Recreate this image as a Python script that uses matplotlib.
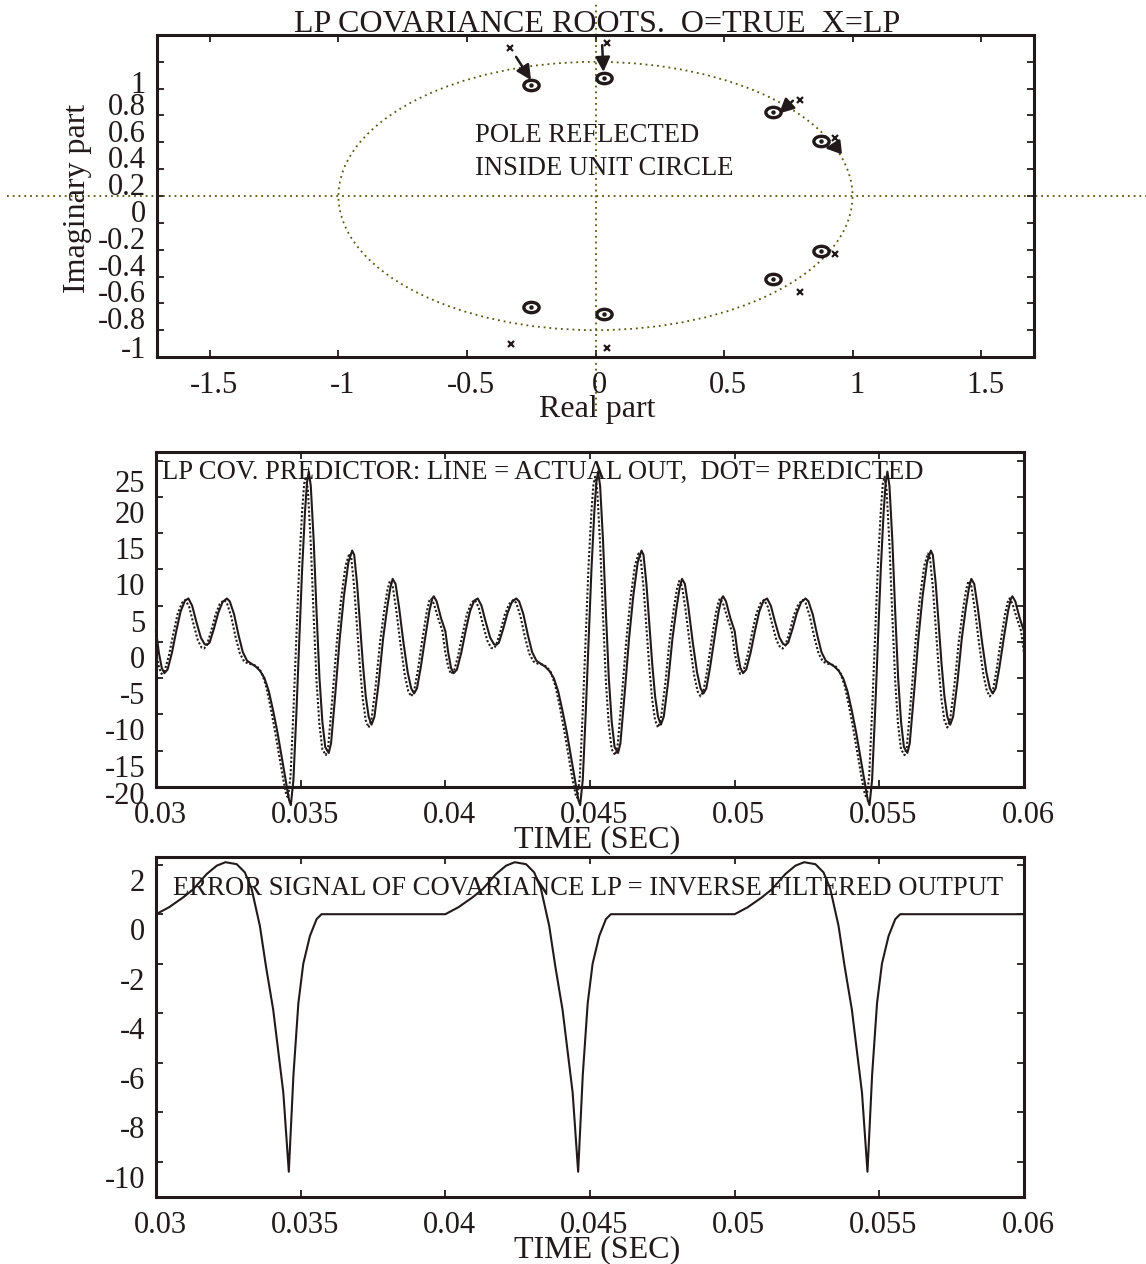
import numpy as np
import matplotlib.pyplot as plt
from matplotlib.patches import Circle
from matplotlib.path import Path
from matplotlib.transforms import ScaledTranslation, Affine2D

plt.rcParams['font.family'] = ['Liberation Serif', 'DejaVu Serif']
ink = '#221a1a'
olive = '#56560f'

# --- pole/zero data: true roots (o) and LP covariance roots (x)
true_re = [-0.25, 0.035, 0.69, 0.878, 0.878, 0.69, 0.035, -0.25]
true_im = [0.826, 0.876, 0.623, 0.41, -0.407, -0.62, -0.879, -0.826]
lp_re = [-0.331, 0.044, 0.794, 0.93, 0.93, 0.794, 0.044, -0.327]
lp_im = [1.104, 1.137, 0.715, 0.43, -0.432, -0.712, -1.13, -1.10]
arrow_tail = [(-0.309, 1.037), (0.026, 1.124), (0.768, 0.710), (0.949, 0.368)]
arrow_head = [(-0.251, 0.864), (0.031, 0.925), (0.714, 0.615), (0.893, 0.356)]

# --- one pitch period (10 ms) of each signal, time in ms from period start
period = 0.01
t0 = 0.03
tau_actual = [0.00, 0.10, 0.20, 0.29, 0.40, 0.55, 0.70, 0.85, 1.00, 1.12, 1.25, 1.40,
              1.55, 1.68, 1.76, 1.85, 2.00, 2.15, 2.30, 2.45, 2.55, 2.70, 2.85, 3.00,
              3.15, 3.30, 3.45, 3.60, 3.75, 3.90, 4.05, 4.20, 4.35, 4.50, 4.60, 4.66,
              4.75, 4.85, 4.95, 5.05, 5.15, 5.22, 5.28, 5.35, 5.45, 5.55, 5.65, 5.75,
              5.85, 5.97, 6.05, 6.20, 6.35, 6.50, 6.65, 6.78, 6.85, 6.95, 7.05, 7.15,
              7.25, 7.35, 7.45, 7.55, 7.70, 7.85, 8.00, 8.10, 8.18, 8.28, 8.40, 8.55,
              8.70, 8.82, 8.92, 9.02, 9.15, 9.30, 9.45, 9.55, 9.60, 9.70, 9.85, 10.00]
actual = [1.5, -1.5, -3.6, -4.3, -3.8, -1.5, 1.5, 4.2, 5.7, 6.0, 5.0, 2.7,
          0.6, -0.3, -0.4, -0.1, 1.8, 4.0, 5.5, 6.0, 5.6, 3.8, 1.0, -1.4,
          -2.6, -3.0, -3.4, -4.0, -5.0, -6.8, -9.5, -12.5, -16.0, -19.5, -21.8, -22.5,
          -19.0, -10.0, 0.0, 10.0, 18.0, 22.0, 23.5, 21.5, 14.0, 4.0, -5.0, -11.0,
          -14.5, -15.3, -14.0, -7.0, 0.5, 6.5, 11.0, 12.6, 12.0, 8.0, 2.5, -3.0,
          -7.5, -10.3, -11.4, -10.3, -5.5, 0.5, 5.0, 7.5, 8.7, 8.0, 4.8, 0.0,
          -4.2, -6.4, -7.1, -6.4, -3.5, 0.5, 4.3, 6.0, 6.3, 5.6, 3.3, 1.5]

tau_pred = [0.00, 0.10, 0.19, 0.30, 0.45, 0.60, 0.75, 0.90, 1.02, 1.15, 1.30, 1.45,
            1.58, 1.66, 1.75, 1.90, 2.05, 2.20, 2.35, 2.45, 2.60, 2.75, 2.90, 3.05,
            3.20, 3.35, 3.50, 3.65, 3.80, 3.95, 4.10, 4.25, 4.40, 4.50, 4.56, 4.65,
            4.75, 4.85, 4.95, 5.05, 5.12, 5.18, 5.25, 5.35, 5.45, 5.55, 5.65, 5.75,
            5.87, 5.95, 6.10, 6.25, 6.40, 6.55, 6.68, 6.75, 6.85, 6.95, 7.05, 7.15,
            7.25, 7.35, 7.45, 7.60, 7.75, 7.90, 8.00, 8.08, 8.18, 8.30, 8.45, 8.60,
            8.72, 8.82, 8.92, 9.05, 9.20, 9.35, 9.45, 9.50, 9.60, 9.75, 9.90, 10.00]
predicted = [-1.5, -3.4, -4.4, -4.0, -1.8, 1.2, 3.9, 5.4, 5.8, 4.8, 2.4, 0.2,
             -0.8, -0.9, -0.5, 1.4, 3.7, 5.2, 5.8, 5.4, 3.5, 0.7, -1.6, -2.7,
             -3.0, -3.1, -3.4, -4.2, -6.0, -8.8, -12.0, -15.5, -19.0, -21.0, -21.5, -18.5,
             -9.5, 0.5, 10.5, 18.0, 21.8, 22.8, 21.0, 13.5, 3.5, -5.5, -11.5, -14.8,
             -15.6, -14.5, -7.5, 0.0, 6.0, 10.5, 12.2, 11.6, 7.5, 2.0, -3.5, -8.0,
             -10.8, -11.8, -10.6, -5.8, 0.2, 4.7, 7.2, 8.4, 7.7, 4.5, -0.3, -4.6,
             -6.8, -7.5, -6.8, -3.9, 0.2, 4.0, 5.7, 6.0, 5.3, 3.3, 1.5, -1.5]

tau_error = [0.00, 0.45, 0.94, 1.29, 1.75, 2.10, 2.40, 2.79, 3.07, 3.30, 3.50, 3.59,
             3.80, 4.05, 4.40, 4.59, 4.75, 4.92, 5.09, 5.32, 5.55, 5.72, 9.87, 10.00]
error = [0.00, 0.28, 0.68, 1.01, 1.62, 1.96, 2.10, 2.02, 1.69, 1.05, 0.0, -0.47,
         -2.1, -3.85, -7.2, -10.4, -6.5, -3.6, -2.0, -0.88, -0.2, 0.0, 0.0, 0.0]


def three_periods(tau, vals):
    t = np.concatenate([t0 + k * period + np.array(tau) / 1000 for k in range(3)])
    return t, np.tile(vals, 3)


W, H = 1146, 1264
fig = plt.figure(figsize=(W / 100, H / 100), dpi=100)
FS_TICK, FS_LABEL, FS_NOTE = 22, 23, 19.2


def box(left, top, right, bottom):
    return [left / W, 1 - bottom / H, (right - left) / W, (bottom - top) / H]


def px(x, y):
    return x / W, 1 - y / H


def style(ax, xt, xl, yt, yl, ydy):
    ax.set_xticks(xt)
    ax.set_yticks(yt)
    ax.set_xticklabels([])
    ax.set_yticklabels([])
    ax.tick_params(direction='in', length=5, width=1.3, top=True, right=True,
                   color=ink)
    for s in ax.spines.values():
        s.set_linewidth(2.2)
        s.set_color(ink)
    xtr = ax.get_xaxis_transform() + ScaledTranslation(4 / 100, -36 / 100, fig.dpi_scale_trans)
    for v, s in zip(xt, xl):
        ax.text(v, 0, s, transform=xtr, ha='center', va='baseline', fontsize=FS_TICK,
                color=ink, clip_on=False)
    for v, s, dy in zip(yt, yl, ydy):
        ytr = ax.get_yaxis_transform() + ScaledTranslation(-11 / 100, -(dy + 10) / 100,
                                                           fig.dpi_scale_trans)
        ax.text(0, v, s, transform=ytr, ha='right', va='baseline', fontsize=FS_TICK,
                color=ink, clip_on=False)


# flattened ring used for the true roots
ring = Path.unit_circle().transformed(Affine2D().scale(1.0, 0.68))

# ---------------- roots plot
ax1 = fig.add_axes(box(157, 35, 1034, 357))
ax1.set_xlim(-1.706, 1.706)
ax1.set_ylim(-1.2, 1.2)
dots = (0, (1, 2.2))
ax1.add_patch(Circle((0, 0), 1, fill=False, ec=olive, lw=1.3, ls=dots))
ax1.plot([-2.29, 2.3], [0, 0], color=olive, lw=1.3, ls=dots, clip_on=False)
ax1.plot([0, 0], [-1.6, 1.45], color=olive, lw=1.3, ls=dots, clip_on=False)
ax1.plot(true_re, true_im, ls='none', marker=ring, ms=11, mfc='white', mec=ink, mew=2.4)
ax1.plot(true_re, true_im, 'o', ms=2.2, color=ink, ls='none')
ax1.plot(lp_re, lp_im, 'x', ms=4.5, mew=1.6, color=ink, ls='none')
for tail, head in zip(arrow_tail, arrow_head):
    ax1.annotate('', xy=head, xytext=tail,
                 arrowprops=dict(arrowstyle='-|>', lw=1.8, color=ink,
                                 mutation_scale=22, shrinkA=0, shrinkB=0))
yt1 = [-1, -0.8, -0.6, -0.4, -0.2, 0, 0.2, 0.4, 0.6, 0.8, 1]
yl1 = ['-1', '-0.8', '-0.6', '-0.4', '-0.2', '0', '0.2', '0.4', '0.6', '0.8', '1']
xt1 = [-1.5, -1, -0.5, 0, 0.5, 1, 1.5]
xl1 = ['-1.5', '-1', '-0.5', '0', '0.5', '1', '1.5']
style(ax1, xt1, xl1, yt1, yl1, ydy=[18] + [16] * 9 + [21])
fig.text(*px(597, 32), 'LP COVARIANCE ROOTS.  O=TRUE  X=LP', ha='center',
         va='baseline', fontsize=FS_LABEL, color=ink)
fig.text(*px(475, 142), 'POLE REFLECTED', ha='left', va='baseline', fontsize=FS_NOTE, color=ink)
fig.text(*px(475, 175), 'INSIDE UNIT CIRCLE', ha='left', va='baseline', fontsize=FS_NOTE,
         color=ink)
fig.text(*px(77, 198), 'Imaginary part', rotation=90, ha='center', va='center',
         fontsize=FS_LABEL, color=ink)
fig.text(*px(597, 417), 'Real part', ha='center', va='baseline', fontsize=FS_LABEL, color=ink)

# ---------------- predictor output
ax2 = fig.add_axes(box(156, 452, 1024, 787))
ax2.set_xlim(0.03, 0.06)
ax2.set_ylim(-20, 26.2)
ta, va = three_periods(tau_actual, actual)
tp, vp = three_periods(tau_pred, predicted)
ax2.plot(ta, va, color=ink, lw=1.5, clip_on=False)
ax2.plot(tp, vp, color=ink, lw=1.5, ls=(0, (1, 1)), clip_on=False)
xt = [0.03, 0.035, 0.04, 0.045, 0.05, 0.055, 0.06]
xl = ['0.03', '0.035', '0.04', '0.045', '0.05', '0.055', '0.06']
yt2 = [-20, -15, -10, -5, 0, 5, 10, 15, 20, 25]
yl2 = ['-20', '-15', '-10', '-5', '0', '5', '10', '15', '20', '25']
style(ax2, xt, xl, yt2, yl2, ydy=[7] + [16] * 8 + [21])
fig.text(*px(162, 479), 'LP COV. PREDICTOR: LINE = ACTUAL OUT,  DOT= PREDICTED',
         ha='left', va='baseline', fontsize=FS_NOTE, color=ink)
fig.text(*px(597, 847), 'TIME (SEC)', ha='center', va='baseline', fontsize=FS_LABEL, color=ink)

# ---------------- inverse filtered output
ax3 = fig.add_axes(box(156, 857, 1024, 1197))
ax3.set_xlim(0.03, 0.06)
ax3.set_ylim(-11.42, 2.31)
te, ve = three_periods(tau_error, error)
ax3.plot(te, ve, color=ink, lw=1.5)
yt3 = [-10, -8, -6, -4, -2, 0, 2]
yl3 = ['-10', '-8', '-6', '-4', '-2', '0', '2']
style(ax3, xt, xl, yt3, yl3, ydy=[16] * 7)
fig.text(*px(173, 895), 'ERROR SIGNAL OF COVARIANCE LP = INVERSE FILTERED OUTPUT',
         ha='left', va='baseline', fontsize=FS_NOTE, color=ink)
fig.text(*px(597, 1257), 'TIME (SEC)', ha='center', va='baseline', fontsize=FS_LABEL, color=ink)

fig.savefig('out.png', dpi=100)
